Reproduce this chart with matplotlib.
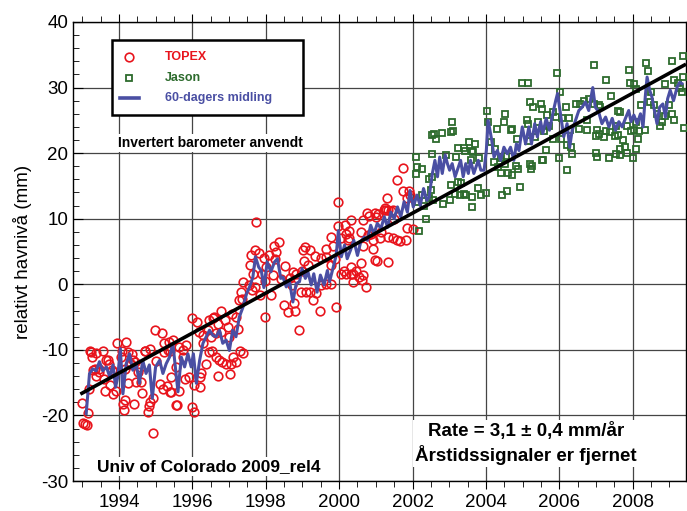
import numpy as np
import matplotlib
matplotlib.use("Agg")
import matplotlib.pyplot as plt
from matplotlib.patches import Rectangle
from matplotlib.ticker import MultipleLocator

plt.rcParams["font.family"] = ["Liberation Sans", "DejaVu Sans"]
plt.rcParams["axes.unicode_minus"] = False

# ---------- data (year, mm) ----------
topex_pts = [
    (1992.99, -18.1), (1993.01, -21.1), (1993.07, -21.3), (1993.13, -21.4), (1993.15, -19.6),
    (1993.19, -15.9), (1993.20, -10.1), (1993.24, -10.3), (1993.27, -11.1), (1993.30, -13.1),
    (1993.34, -12.9), (1993.37, -14.0), (1993.39, -10.5), (1993.45, -12.9), (1993.47, -13.4),
    (1993.56, -10.1), (1993.60, -14.4), (1993.63, -16.3), (1993.66, -11.6), (1993.69, -11.5),
    (1993.72, -12.1), (1993.76, -15.4), (1993.82, -13.1), (1993.83, -16.8), (1993.87, -13.4),
    (1993.92, -16.2), (1993.96, -8.9), (1994.06, -11.1), (1994.09, -10.1), (1994.12, -18.2),
    (1994.15, -19.1), (1994.17, -17.7), (1994.18, -12.9), (1994.19, -8.8), (1994.24, -15.1),
    (1994.26, -10.3), (1994.29, -12.1), (1994.33, -12.1), (1994.35, -10.6), (1994.39, -11.5),
    (1994.42, -18.2), (1994.43, -11.8), (1994.46, -14.9), (1994.51, -13.4), (1994.57, -12.6),
    (1994.60, -14.9), (1994.64, -16.6), (1994.70, -10.1), (1994.72, -10.2), (1994.78, -19.5),
    (1994.81, -18.6), (1994.84, -9.8), (1994.84, -17.9), (1994.92, -17.4), (1994.93, -22.7),
    (1994.99, -7.0), (1995.01, -11.7), (1995.12, -15.2), (1995.17, -7.5), (1995.19, -15.9),
    (1995.22, -10.3), (1995.23, -9.0), (1995.30, -15.5), (1995.33, -10.0), (1995.37, -8.8),
    (1995.39, -16.4), (1995.42, -14.2), (1995.55, -18.4),
    (1995.38, -10.1), (1995.43, -16.4), (1995.47, -8.5), (1995.56, -12.6), (1995.58, -18.4),
    (1995.63, -16.3), (1995.65, -9.6), (1995.74, -10.0), (1995.74, -11.1), (1995.79, -14.4),
    (1995.82, -9.3), (1995.91, -14.1), (1996.00, -5.1), (1996.00, -18.7), (1996.06, -15.4),
    (1996.06, -19.5), (1996.12, -5.7), (1996.18, -7.3), (1996.20, -14.1), (1996.21, -15.7),
    (1996.24, -13.6), (1996.29, -7.8), (1996.29, -9.0), (1996.36, -12.1), (1996.42, -7.0),
    (1996.45, -5.4), (1996.45, -10.3), (1996.51, -8.0), (1996.54, -10.1), (1996.56, -5.1),
    (1996.60, -5.0), (1996.65, -7.5), (1996.65, -11.1), (1996.70, -6.0), (1996.70, -14.0),
    (1996.74, -11.6), (1996.79, -4.0), (1996.79, -7.3), (1996.81, -11.8), (1996.88, -5.5),
    (1996.92, -12.1), (1996.97, -6.5), (1997.01, -8.0), (1997.03, -13.7), (1997.06, -12.1),
    (1997.09, -4.5), (1997.12, -11.1), (1997.19, -5.0), (1997.19, -11.8), (1997.24, -6.8),
    (1997.28, -2.4), (1997.30, -10.1), (1997.33, -1.2), (1997.36, -2.2), (1997.39, 0.4),
    (1997.39, -10.5), (1997.54, -0.1), (1997.56, 2.9), (1997.60, 4.4), (1997.63, -0.9),
    (1997.65, 1.6), (1997.72, 5.3), (1997.72, -0.4), (1997.74, 9.5), (1997.83, 4.7),
    (1997.85, -1.7),
    (1997.90, 1.6), (1997.95, 4.0), (1997.97, 0.5), (1997.97, -5.0), (1998.02, 2.6),
    (1998.08, 4.4), (1998.15, -1.7), (1998.20, 1.4), (1998.22, 5.9), (1998.24, 3.9),
    (1998.29, 4.9), (1998.35, 6.5), (1998.42, 0.8), (1998.51, -3.2), (1998.53, 2.8),
    (1998.62, -4.2), (1998.65, 0.9), (1998.71, -0.1), (1998.74, 1.9), (1998.77, -2.8),
    (1998.79, -4.0), (1998.83, 1.6), (1998.92, -7.0), (1998.95, -1.2), (1998.99, 2.0),
    (1999.01, 5.2), (1999.04, 3.5), (1999.06, 5.7), (1999.10, -1.2), (1999.15, 2.9),
    (1999.22, 5.2), (1999.22, -1.2), (1999.29, -2.4), (1999.35, 4.3), (1999.38, -1.4),
    (1999.47, -4.0), (1999.51, 4.0), (1999.51, -0.1), (1999.65, 5.4), (1999.65, 4.2),
    (1999.65, 0.1), (1999.78, 7.2), (1999.78, 2.9), (1999.78, 0.1), (1999.83, 5.9),
    (1999.89, 3.8), (1999.92, -3.5), (1999.98, 12.5), (1999.98, 8.9), (2000.04, 1.5),
    (2000.06, 7.0), (2000.13, 2.1), (2000.15, 9.0), (2000.19, 1.5), (2000.19, 7.7),
    (2000.24, 6.8), (2000.26, 8.2), (2000.26, 7.0), (2000.31, 9.8), (2000.33, 1.5),
    (2000.33, 2.7), (2000.37, 0.3), (2000.39, 1.5),
    (2000.46, 2.1), (2000.55, 1.1), (2000.59, 8.0), (2000.59, 3.2), (2000.63, 0.6),
    (2000.64, 5.9), (2000.66, 9.8), (2000.66, 1.4), (2000.73, -0.4), (2000.77, 10.9),
    (2000.78, 7.5), (2000.82, 10.4), (2000.86, 7.7), (2000.91, 5.4), (2000.92, 6.8),
    (2000.97, 10.8), (2000.97, 3.7), (2001.01, 10.2), (2001.04, 3.6), (2001.06, 10.7),
    (2001.10, 7.0), (2001.14, 8.0), (2001.21, 11.3), (2001.24, 11.7), (2001.28, 11.4),
    (2001.30, 13.1), (2001.32, 7.2), (2001.32, 3.4), (2001.34, 11.4), (2001.42, 11.2),
    (2001.46, 7.1), (2001.48, 11.4), (2001.50, 10.0), (2001.59, 15.9), (2001.59, 6.7),
    (2001.66, 6.6), (2001.75, 17.8), (2001.75, 14.3), (2001.82, 6.7), (2001.86, 13.1),
    (2001.86, 8.6), (2001.91, 14.3), (2001.93, 13.6), (2002.02, 8.5),
]

jason_pts = [
    (2002.09, 19.4), (2002.09, 16.8), (2002.12, 17.9), (2002.16, 12.5), (2002.18, 8.1),
    (2002.27, 17.6), (2002.27, 13.6), (2002.31, 12.0), (2002.36, 10.0), (2002.45, 16.1),
    (2002.45, 13.2), (2002.50, 14.4), (2002.54, 22.7), (2002.54, 19.9), (2002.57, 12.8),
    (2002.54, 16.4), (2002.59, 22.9), (2002.63, 22.2), (2002.81, 23.0), (2002.83, 12.3),
    (2002.90, 19.7), (2003.01, 12.8), (2003.04, 23.2), (2003.04, 15.1), (2003.08, 24.8),
    (2003.10, 23.4), (2003.16, 13.8), (2003.18, 19.4), (2003.25, 20.8), (2003.25, 15.6),
    (2003.28, 13.6), (2003.31, 15.4), (2003.40, 20.8), (2003.40, 13.7), (2003.43, 20.4),
    (2003.47, 13.6), (2003.54, 21.7), (2003.58, 19.0), (2003.63, 20.4), (2003.63, 13.3),
    (2003.63, 11.8), (2003.65, 20.2), (2003.70, 21.4), (2003.79, 14.7), (2003.81, 19.2),
    (2003.86, 13.6), (2003.99, 13.9), (2004.04, 26.5), (2004.06, 24.8), (2004.13, 21.7),
    (2004.22, 18.7), (2004.25, 20.7), (2004.31, 23.7), (2004.34, 17.9), (2004.40, 19.2),
    (2004.40, 16.9), (2004.45, 13.6), (2004.49, 24.8), (2004.52, 25.9), (2004.52, 18.3),
    (2004.55, 19.5), (2004.58, 14.2), (2004.61, 16.9), (2004.67, 23.5), (2004.70, 23.7),
    (2004.72, 16.6), (2004.81, 18.0), (2004.85, 22.2), (2004.88, 17.6), (2004.92, 14.9),
    (2004.97, 30.7), (2005.13, 25.0), (2005.15, 30.7), (2005.15, 24.4), (2005.15, 21.9),
    (2005.19, 27.8), (2005.19, 18.3), (2005.24, 17.6), (2005.26, 18.0), (2005.28, 27.0),
    (2005.33, 22.4), (2005.43, 24.8), (2005.49, 27.5), (2005.52, 26.8), (2005.53, 19.0),
    (2005.55, 18.9), (2005.58, 23.4), (2005.63, 20.5), (2005.67, 25.8), (2005.72, 24.2),
    (2005.82, 26.3), (2005.82, 22.1), (2005.90, 25.5), (2005.94, 32.2),
    (2005.99, 19.2), (2006.01, 29.3), (2006.05, 22.1), (2006.06, 25.4), (2006.19, 27.1),
    (2006.21, 21.3), (2006.21, 17.5), (2006.26, 25.4), (2006.30, 23.5), (2006.32, 21.0),
    (2006.35, 19.9), (2006.46, 27.5), (2006.53, 23.7), (2006.57, 27.5), (2006.67, 27.9),
    (2006.74, 25.0), (2006.76, 23.6), (2006.80, 28.3), (2006.94, 33.4), (2006.94, 27.5),
    (2007.00, 22.6), (2007.01, 20.0), (2007.03, 19.4), (2007.03, 23.5), (2007.07, 27.4),
    (2007.08, 22.9), (2007.12, 27.0), (2007.21, 22.5), (2007.28, 31.2), (2007.28, 23.4),
    (2007.35, 19.2), (2007.39, 23.2), (2007.41, 28.7), (2007.51, 22.6), (2007.53, 19.9),
    (2007.55, 24.2), (2007.59, 26.5), (2007.59, 22.7), (2007.66, 26.3), (2007.66, 20.7),
    (2007.66, 19.7), (2007.74, 22.0), (2007.80, 20.9), (2007.83, 24.1), (2007.84, 20.0),
    (2007.89, 32.7), (2007.92, 30.7), (2007.94, 23.4), (2008.01, 19.2), (2008.04, 30.5),
    (2008.04, 23.6), (2008.09, 20.7), (2008.09, 24.8), (2008.10, 29.8), (2008.14, 22.1),
    (2008.16, 23.4), (2008.23, 27.3), (2008.32, 23.5), (2008.37, 33.7), (2008.41, 32.6),
    (2008.46, 27.8), (2008.51, 29.3), (2008.57, 27.3), (2008.66, 26.0), (2008.75, 24.2),
    (2008.80, 24.8), (2008.89, 25.6), (2008.89, 30.5), (2008.98, 27.3), (2009.07, 34.1),
    (2009.07, 26.0), (2009.11, 25.1), (2009.13, 31.1), (2009.22, 30.7), (2009.28, 30.0),
    (2009.34, 29.3), (2009.37, 34.8), (2009.37, 31.6), (2009.39, 23.9),
]

# 60-day running mean (blue line)
mean_pts = [
    (1993.11, -19.7), (1993.20, -13.6), (1993.29, -12.9), (1993.38, -13.2), (1993.47, -11.8),
    (1993.56, -13.2), (1993.66, -12.6), (1993.75, -14.1), (1993.84, -12.3), (1993.91, -15.7),
    (1993.97, -14.1), (1994.04, -9.8), (1994.11, -16.7), (1994.20, -12.1), (1994.29, -10.6),
    (1994.38, -13.1), (1994.47, -12.1), (1994.56, -15.1), (1994.65, -11.6), (1994.74, -13.6),
    (1994.83, -12.3), (1994.91, -17.4), (1995.00, -12.6), (1995.11, -11.6), (1995.20, -13.6),
    (1995.29, -12.1), (1995.38, -11.1), (1995.47, -9.0), (1995.61, -16.4), (1995.70, -11.1),
    (1995.79, -12.6), (1995.88, -10.6), (1995.97, -12.6), (1996.03, -10.6), (1996.11, -15.1),
    (1996.20, -11.6), (1996.29, -9.0), (1996.38, -8.0), (1996.47, -7.0), (1996.56, -7.8),
    (1996.65, -8.0), (1996.74, -7.0), (1996.83, -9.0), (1996.92, -8.5), (1997.01, -10.1),
    (1997.10, -7.0), (1997.19, -8.0), (1997.28, -5.0), (1997.38, -3.5), (1997.48, -1.4),
    (1997.56, -0.4), (1997.65, 1.1), (1997.72, 4.2), (1997.81, 2.6), (1997.88, 2.1),
    (1997.95, -0.5), (1998.04, 3.4), (1998.14, 1.9), (1998.24, 3.4), (1998.32, 3.9),
    (1998.41, 0.9), (1998.47, 1.1), (1998.56, -0.4), (1998.65, 0.4), (1998.74, -2.7),
    (1998.83, 0.1), (1998.92, 0.4), (1998.99, 2.4), (1999.08, 0.9), (1999.15, 1.9),
    (1999.24, -0.1), (1999.31, 1.6), (1999.40, -1.2), (1999.49, 1.4), (1999.59, -0.1),
    (1999.68, 2.1), (1999.74, 0.4), (1999.83, 2.4), (1999.92, 4.4), (1999.98, 8.2),
    (2000.06, 4.2), (2000.15, 6.0), (2000.22, 3.9), (2000.31, 5.2), (2000.40, 6.7),
    (2000.50, 4.4), (2000.59, 6.5), (2000.68, 7.2), (2000.77, 6.7), (2000.86, 9.0),
    (2000.95, 7.7), (2001.04, 9.3), (2001.14, 8.5), (2001.23, 10.3), (2001.32, 8.7),
    (2001.41, 11.0), (2001.50, 10.0), (2001.59, 11.8), (2001.68, 10.3), (2001.77, 12.6),
    (2001.86, 11.0), (2001.93, 14.3), (2002.02, 11.8), (2002.12, 13.6), (2002.21, 12.0),
    (2002.30, 14.6), (2002.39, 12.8), (2002.45, 13.3), (2002.54, 16.9), (2002.61, 18.9),
    (2002.68, 16.4), (2002.74, 19.4), (2002.81, 16.9), (2002.89, 19.7), (2002.95, 18.4),
    (2003.01, 17.4), (2003.08, 18.4), (2003.16, 16.4), (2003.22, 17.4), (2003.31, 18.9),
    (2003.38, 16.4), (2003.45, 18.4), (2003.52, 16.9), (2003.58, 18.9), (2003.67, 16.9),
    (2003.79, 18.9), (2003.86, 17.4), (2003.95, 17.4), (2004.01, 20.4), (2004.06, 25.0),
    (2004.16, 21.9), (2004.22, 19.4), (2004.31, 20.4), (2004.40, 18.9), (2004.49, 20.9),
    (2004.58, 19.9), (2004.67, 20.9), (2004.76, 18.9), (2004.83, 21.4), (2004.90, 20.4),
    (2004.99, 24.0), (2005.08, 21.4), (2005.17, 24.0), (2005.24, 21.4), (2005.33, 24.5),
    (2005.40, 22.5), (2005.49, 24.8), (2005.55, 23.0), (2005.64, 25.3), (2005.73, 23.5),
    (2005.82, 26.0), (2005.90, 28.0), (2005.95, 29.1), (2006.03, 26.0), (2006.12, 22.5),
    (2006.21, 24.5), (2006.28, 20.9), (2006.35, 23.5), (2006.44, 25.0), (2006.53, 26.5),
    (2006.62, 27.0), (2006.71, 27.8), (2006.80, 26.5), (2006.91, 30.0), (2006.98, 27.0),
    (2007.07, 26.3), (2007.16, 24.5), (2007.26, 25.5), (2007.35, 24.0), (2007.44, 25.3),
    (2007.53, 23.5), (2007.62, 24.8), (2007.71, 24.0), (2007.80, 25.3), (2007.89, 26.5),
    (2007.95, 24.8), (2008.03, 25.8), (2008.12, 24.5), (2008.21, 26.0), (2008.28, 24.0),
    (2008.34, 28.6), (2008.39, 31.6), (2008.46, 29.6), (2008.52, 28.6), (2008.59, 26.5),
    (2008.66, 24.5), (2008.73, 27.0), (2008.82, 27.5), (2008.89, 25.5), (2008.95, 28.3),
    (2009.02, 29.6), (2009.11, 28.0), (2009.21, 30.1), (2009.28, 30.8), (2009.34, 30.6),
]

# linear trend, 3.1 mm/yr
trend_t = [1992.95, 2009.45]
trend_v = [-16.75, 33.57]

x_ticks = [1994, 1996, 1998, 2000, 2002, 2004, 2006, 2008]
y_ticks = [-30, -20, -10, 0, 10, 20, 30, 40]

RED = "#e8141c"
GREEN = "#2d6b2d"
BLUE = "#4a4fa3"

topex_t, topex_v = zip(*topex_pts)
jason_t, jason_v = zip(*jason_pts)
mean_t, mean_v = zip(*mean_pts)

# ---------- figure ----------
fig = plt.figure(figsize=(6.87, 5.11), dpi=100)
ax = fig.add_axes([73 / 687, 1 - 481 / 511, 613 / 687, 459 / 511])

ax.plot(topex_t, topex_v, ls="none", marker="o", ms=6.2, mfc="none", mec=RED, mew=1.2, zorder=3)
ax.plot(jason_t, jason_v, ls="none", marker="s", ms=5.0, mfc="none", mec=GREEN, mew=1.3, zorder=3)
ax.plot(mean_t, mean_v, color=BLUE, lw=2.2, zorder=4)
ax.plot(trend_t, trend_v, color="black", lw=2.6, zorder=5, solid_capstyle="butt")

ax.set_xlim(1992.75, 2009.45)
ax.set_ylim(-30, 40)
ax.set_xticks(x_ticks)
ax.set_yticks(y_ticks)
ax.xaxis.set_minor_locator(MultipleLocator(0.5))
ax.yaxis.set_minor_locator(MultipleLocator(2))
ax.tick_params(axis="both", which="major", labelsize=13.5, color="black")
ax.tick_params(axis="x", which="both", direction="out", top=True)
ax.tick_params(axis="x", which="major", length=6)
ax.tick_params(axis="x", which="minor", length=4)
ax.tick_params(axis="y", which="both", direction="in")
ax.tick_params(axis="y", which="major", length=7)
ax.tick_params(axis="y", which="minor", length=4)
ax.grid(True, which="major", color="#454545", lw=0.9)
ax.set_axisbelow(True)
for s in ax.spines.values():
    s.set_linewidth(1.0)

ax.set_ylabel("relativt havnivå (mm)", fontsize=13.5, labelpad=6)

# ---------- legend box ----------
ax.add_patch(Rectangle((0.0629, 0.797), 0.3126, 0.164, transform=ax.transAxes,
                       facecolor="white", edgecolor="black", lw=1.8, zorder=6))
rows = [0.9244, 0.8773, 0.8338]
ax.plot([0.0918], [rows[0]], transform=ax.transAxes, marker="o", ms=6.2, mfc="none", mec=RED, mew=1.2, zorder=7)
ax.plot([0.0918], [rows[1]], transform=ax.transAxes, marker="s", ms=5.0, mfc="none", mec=GREEN, mew=1.3, zorder=7)
ax.plot([0.0767, 0.1082], [rows[2], rows[2]], transform=ax.transAxes, color=BLUE, lw=2.6, zorder=7)
for label, col, y in zip(["TOPEX", "Jason", "60-dagers midling"], [RED, GREEN, BLUE], rows):
    ax.text(0.150, y, label, transform=ax.transAxes, color=col, fontsize=9, fontweight="bold",
            va="center", ha="left", zorder=8)

box = dict(facecolor="white", edgecolor="none", pad=1.5)
ax.text(0.224, 0.736, "Invertert barometer anvendt", transform=ax.transAxes, fontsize=10,
        fontweight="bold", ha="center", va="center", bbox=box, zorder=8)
ax.text(0.039, 0.031, "Univ of Colorado 2009_rel4", transform=ax.transAxes, fontsize=12.5,
        fontweight="bold", ha="left", va="center", bbox=box, zorder=8)
ax.text(0.739, 0.081, "Rate = 3,1 ± 0,4 mm/år\nÅrstidssignaler er fjernet", transform=ax.transAxes,
        fontsize=13.5, fontweight="bold", ha="center", va="center", linespacing=1.3,
        bbox=box, zorder=8)

fig.savefig("out.png", dpi=100)
